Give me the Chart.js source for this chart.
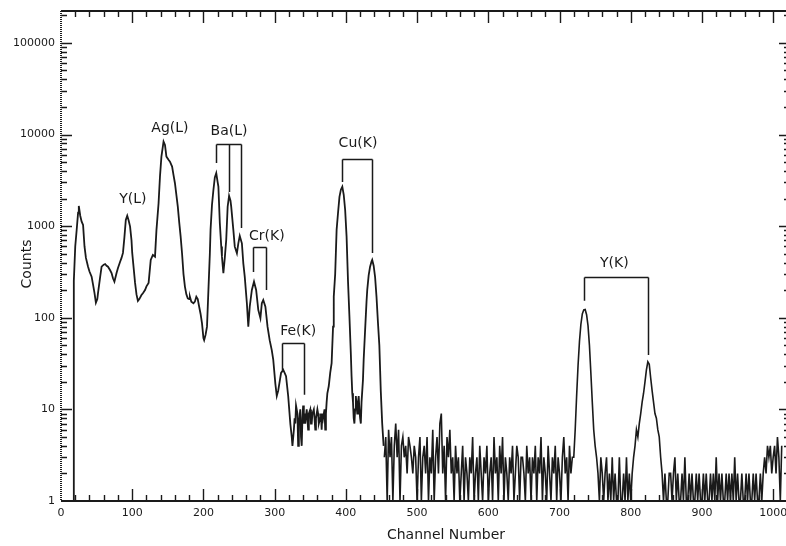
<!DOCTYPE html>
<html>
<head>
<meta charset="utf-8">
<script src="https://cdn.jsdelivr.net/npm/chart.js@4.4.1/dist/chart.umd.min.js"></script>
<style>
  html, body { margin: 0; padding: 0; background: #fff; }
</style>
</head>
<body>
<canvas id="spectrum" width="786" height="546"></canvas>
<script>
'use strict';

// SPECTRUM DATA
// low-channel part
const peakChannels = [
  0, 17, 18, 20, 22, 24, 25, 27, 29, 31, 33, 35, 38, 40, 43, 45, 47, 49, 51, 52,
  55, 57, 60, 62, 64, 66, 69, 71, 73, 75, 78, 80, 83, 85, 87, 89, 91, 93, 95, 97,
  99, 100, 102, 104, 106, 108, 110, 113, 115, 118, 120, 123, 126, 129, 132, 134, 137, 139, 141, 144,
  146, 148, 151, 153, 156, 158, 160, 162, 164, 166, 168, 170, 172, 174, 176, 178, 180, 181, 183, 186,
  188, 190, 192, 194, 196, 198, 200, 201, 203, 205, 207, 209, 210, 212, 214, 216, 218, 220, 221, 223,
  225, 226, 228, 230, 232, 234, 236, 238, 239, 242, 244, 247, 249, 251, 254, 256, 258, 261, 263, 265,
  268, 271, 274, 277, 280, 282, 284, 287, 290, 293, 296, 298, 301, 303, 305, 309, 312, 314, 316, 319,
  322, 324, 325, 327, 328, 329, 330, 332, 333, 334, 336, 337, 338, 339, 340, 341, 342, 343, 345, 346,
  347, 348, 350, 351, 352, 353, 355, 356, 357, 358, 360, 361, 362, 364, 365, 366, 367, 368, 370, 371,
  372, 373, 374, 376, 378, 380, 382, 383, 385, 387, 389, 391, 393, 395, 397, 399, 401, 403, 405, 407,
  408, 409, 410, 411, 412, 413, 414, 415, 416, 417, 418, 419, 420, 421, 422, 424, 425, 427, 429, 430,
  432, 434, 436, 437, 439, 441, 443, 445, 447, 449, 451, 453
];
const peakCounts = [
  1, 1, 250, 600, 908, 1400, 1660, 1300, 1120, 1030, 600, 450, 361, 320, 281, 230, 187, 146, 160, 187,
  280, 361, 380, 386, 370, 361, 330, 308, 270, 248, 308, 350, 409, 450, 510, 750, 1170, 1300, 1150, 990,
  700, 510, 350, 240, 180, 153, 160, 177, 185, 201, 220, 240, 428, 485, 465, 900, 1780, 3500, 5740, 8370,
  7700, 5740, 5300, 5060, 4470, 3600, 2940, 2200, 1630, 1100, 768, 500, 300, 219, 180, 163, 160, 170, 150, 144,
  150, 170, 160, 132, 110, 87, 60, 57, 65, 80, 201, 500, 910, 1700, 2480, 3400, 3790, 3000, 2700, 1080,
  600, 465, 306, 450, 707, 1630, 2140, 1900, 1630, 910, 597, 506, 650, 782, 650, 393, 281, 144, 80, 132,
  201, 248, 201, 122, 99, 144, 156, 132, 80, 57, 44, 35, 19, 14, 16, 25, 27, 25, 23, 14,
  7, 5, 4, 6, 8, 7, 11, 9, 4, 7, 10, 5, 4, 8, 11, 7, 9, 7, 10, 8,
  6, 9, 10, 7, 7, 9, 10, 8, 6, 8, 10, 9, 7, 8, 9, 6, 9, 8, 10, 6,
  9, 12, 15, 18, 25, 32, 80, 170, 300, 910, 1400, 2090, 2500, 2700, 2200, 1500, 768, 250, 103, 40,
  23, 15, 12, 8, 7, 10, 14, 11, 9, 12, 14, 10, 8, 7, 12, 21, 35, 73, 150, 201,
  290, 361, 410, 428, 370, 280, 170, 90, 50, 16, 7, 4
];

// high-channel tail, one reading every 2 channels from channel 454
const tailFirstChannel = 454;
const tailChannelStep = 2;
const tailCounts = [
  3, 5, 1, 6, 3, 5, 1, 4, 7, 3,
  6, 1, 4, 5, 3, 4, 2, 5, 4, 3,
  2, 4, 3, 1, 3, 5, 1, 3, 4, 2,
  5, 1, 3, 2, 6, 1, 3, 5, 2, 7,
  9, 2, 4, 1, 5, 3, 6, 2, 3, 1,
  4, 2, 3, 1, 2, 4, 1, 3, 2, 1,
  3, 2, 5, 1, 2, 3, 1, 4, 2, 1,
  3, 2, 4, 1, 2, 3, 1, 5, 2, 3,
  1, 4, 2, 5, 1, 3, 2, 1, 3, 2,
  4, 1, 2, 4, 3, 1, 3, 3, 2, 1,
  4, 2, 3, 1, 3, 2, 4, 1, 3, 2,
  5, 1, 3, 2, 1, 4, 2, 1, 3, 2,
  4, 1, 3, 2, 1, 3, 5, 2, 3, 1,
  4, 2, 3, 3, 6, 14, 30, 55, 85, 110,
  122, 123, 108, 82, 50, 25, 12, 6, 4, 3,
  2, 1, 3, 2, 1, 2, 3, 1, 2, 1,
  3, 1, 2, 1, 1, 3, 1, 1, 2, 1,
  3, 1, 2, 1, 2, 3, 4, 6, 5, 7,
  9, 12, 15, 20, 27, 33, 31, 22, 16, 12,
  9, 8, 6, 5, 3, 2, 1, 2, 1, 1,
  2, 2, 1, 2, 3, 1, 2, 1, 1, 2,
  1, 3, 1, 1, 2, 1, 2, 1, 1, 2,
  1, 2, 1, 1, 2, 1, 2, 1, 1, 2,
  1, 2, 1, 3, 1, 2, 1, 2, 1, 1,
  2, 1, 2, 1, 2, 1, 3, 1, 2, 1,
  1, 2, 1, 1, 2, 1, 2, 1, 1, 2,
  1, 2, 1, 1, 2, 1, 2, 3, 2, 4,
  3, 4, 2, 3, 4, 2, 5, 3, 1, 4
];

// axes
const channelTicks = [0, 100, 200, 300, 400, 500, 600, 700, 800, 900, 1000];
const countTicks = [1, 10, 100, 1000, 10000, 100000];

// element lines
const lineLabels = ['Y(L)', 'Ag(L)', 'Ba(L)', 'Cr(K)', 'Fe(K)', 'Cu(K)', 'Y(K)'];
const labelChannels = [101, 153, 236, 289, 333, 417, 777];
const labelCounts = [1980, 11800, 10900, 782, 71.8, 8090, 397];
const bracketTops = [null, null, 7890, 593, 53, 5420, 279];
const bracketLegs = [
  [],
  [],
  [[218, 4900], [236, 2360], [253, 956]],
  [[270, 316], [288, 201]],
  [[310, 26.9], [341, 14.4]],
  [[395, 3040], [437, 510]],
  [[735, 153], [824, 39.3]]
];

const peakData = peakChannels.map((ch, i) => ({x: ch, y: peakCounts[i]}));
const tailData = tailCounts.map((c, i) => ({x: tailFirstChannel + i * tailChannelStep, y: c}));

const FONT = '"DejaVu Sans", sans-serif';
const INK = '#1a1a1a';
// the right-hand axis sits just past the edge of the picture
const RIGHT_AXIS_OFFSET = 4;

// frame, inward tick marks, annotations and axis titles
const framePlugin = {
  id: 'frame',
  afterDatasetsDraw(chart) {
    const {ctx, chartArea: a, scales: {x, y}} = chart;
    const right = a.right + RIGHT_AXIS_OFFSET;
    ctx.save();
    ctx.strokeStyle = INK;
    ctx.lineCap = 'butt';

    // top + bottom axis
    ctx.lineWidth = 2;
    ctx.beginPath();
    ctx.moveTo(a.left, a.top); ctx.lineTo(right, a.top);
    ctx.moveTo(a.left, a.bottom); ctx.lineTo(right, a.bottom);
    ctx.stroke();

    // left axis looks dotted in the scan
    ctx.save();
    ctx.setLineDash([1, 1]);
    ctx.beginPath();
    ctx.moveTo(a.left, a.top); ctx.lineTo(a.left, a.bottom);
    ctx.stroke();
    ctx.restore();

    // x ticks every 20, long every 100
    ctx.lineWidth = 1.4;
    ctx.beginPath();
    for (let ch = 20; ch <= x.max + 5; ch += 20) {
      const px = Math.round(x.getPixelForValue(ch)) + 0.5;
      const len = ch % 100 === 0 ? 12 : 6;
      ctx.moveTo(px, a.bottom); ctx.lineTo(px, a.bottom - len);
      ctx.moveTo(px, a.top); ctx.lineTo(px, a.top + len);
    }
    // y ticks, decades long, 2..9 short
    for (const d of countTicks) {
      for (let m = 1; m <= 9; m++) {
        const v = d * m;
        if (v > y.max || v <= 1) continue;
        const py = Math.round(y.getPixelForValue(v)) + 0.5;
        const len = m === 1 ? 11 : 6;
        ctx.moveTo(a.left, py); ctx.lineTo(a.left + len, py);
        ctx.moveTo(right, py); ctx.lineTo(right - len, py);
      }
    }
    ctx.stroke();

    // element labels and brackets
    ctx.fillStyle = INK;
    ctx.font = '14px ' + FONT;
    ctx.textAlign = 'center';
    ctx.textBaseline = 'middle';
    ctx.lineWidth = 1.5;
    lineLabels.forEach((txt, i) => {
      ctx.fillText(txt, x.getPixelForValue(labelChannels[i]), y.getPixelForValue(labelCounts[i]));
      const legs = bracketLegs[i];
      if (!legs.length) return;
      const top = Math.round(y.getPixelForValue(bracketTops[i])) + 0.5;
      const xs = legs.map(l => Math.round(x.getPixelForValue(l[0])) + 0.5);
      ctx.beginPath();
      ctx.moveTo(xs[0], top); ctx.lineTo(xs[xs.length - 1], top);
      legs.forEach((l, j) => {
        ctx.moveTo(xs[j], top);
        ctx.lineTo(xs[j], y.getPixelForValue(l[1]));
      });
      ctx.stroke();
    });

    // axis titles
    ctx.font = '14px ' + FONT;
    ctx.fillText('Channel Number', 446, 535);
    ctx.translate(27, 264);
    ctx.rotate(-Math.PI / 2);
    ctx.fillText('Counts', 0, 0);
    ctx.restore();
  }
};

const noEdgePadding = s => {
  s.paddingLeft = 0; s.paddingRight = 0; s.paddingTop = 0; s.paddingBottom = 0;
};

new Chart(document.getElementById('spectrum'), {
  type: 'line',
  data: {
    datasets: [
      {
        data: peakData,
        borderColor: INK,
        borderWidth: 1.8,
        pointRadius: 0,
        tension: 0,
        clip: 3
      },
      {
        data: tailData,
        borderColor: INK,
        borderWidth: 1.6,
        pointRadius: 0,
        tension: 0,
        clip: 3
      }
    ]
  },
  options: {
    responsive: false,
    animation: false,
    events: [],
    layout: {padding: {top: 11, right: 0, bottom: 0, left: 0}},
    plugins: {legend: {display: false}, tooltip: {enabled: false}},
    scales: {
      x: {
        type: 'linear',
        min: 0,
        max: 1018,
        grid: {display: false, drawTicks: false},
        border: {display: false},
        afterBuildTicks: s => { s.ticks = channelTicks.map(v => ({value: v})); },
        afterFit: s => { s.height = 45; noEdgePadding(s); },
        ticks: {
          padding: 6,
          autoSkip: false,
          maxRotation: 0,
          color: INK,
          font: {family: FONT, size: 11},
          callback: v => String(v)
        }
      },
      y: {
        type: 'logarithmic',
        min: 1,
        max: 223000,
        grid: {display: false, drawTicks: false},
        border: {display: false},
        afterBuildTicks: s => { s.ticks = countTicks.map(v => ({value: v})); },
        afterFit: s => { s.width = 61; noEdgePadding(s); },
        ticks: {
          padding: 6,
          autoSkip: false,
          color: INK,
          font: {family: FONT, size: 11},
          callback: v => String(v)
        }
      }
    }
  },
  plugins: [framePlugin]
});
</script>
</body>
</html>
